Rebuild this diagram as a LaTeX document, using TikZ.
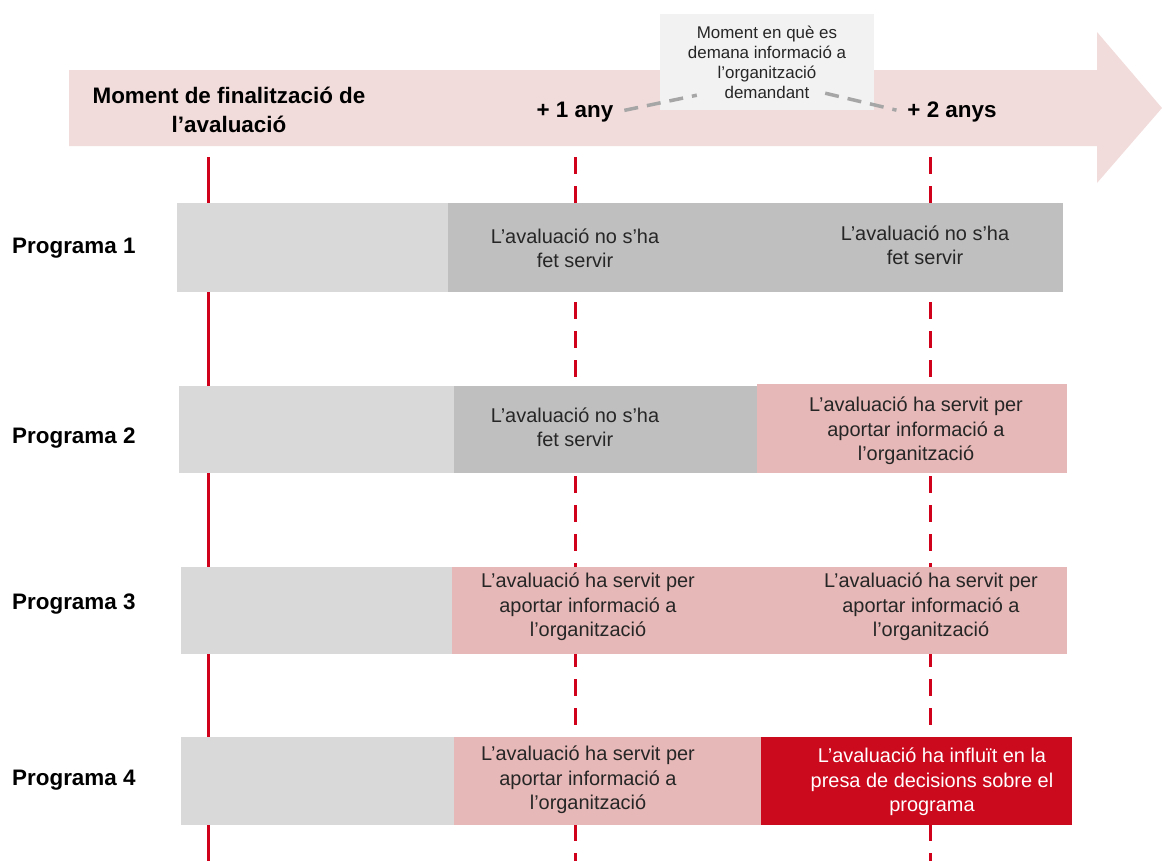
\documentclass[tikz,border=0pt]{standalone}
\usepackage{fontspec}
\setmainfont{Liberation Sans}
\usepackage{tikz}
\usetikzlibrary{calc,shapes,arrows,positioning}
\definecolor{arrowpink}{HTML}{F2DCDB}
\definecolor{greyL}{HTML}{D9D9D9}
\definecolor{greyD}{HTML}{BFBFBF}
\definecolor{pinkL}{HTML}{E6B8B7}
\definecolor{redF}{HTML}{CC0A1E}
\definecolor{redline}{HTML}{D0021B}
\definecolor{callbg}{HTML}{F2F2F2}
\definecolor{dashgrey}{HTML}{A6A6A6}
\definecolor{txtgrey}{HTML}{262626}
\tikzset{
  cell/.style={anchor=north west, inner sep=0pt, minimum height=88bp},
  celltxt/.style={align=center, text=txtgrey, font=\fontsize{20}{24.5}\selectfont},
  boldlbl/.style={align=center, text=black, font=\bfseries\fontsize{22.5}{29}\selectfont},
  redv/.style={draw=redline, line width=3bp},
  vdash/.style={dash pattern=on 17bp off 12bp},
  calldash/.style={draw=dashgrey, line width=3.5bp, dash pattern=on 14bp off 9bp}
}

\begin{document}
\begin{tikzpicture}[x=1bp,y=-1bp]
    \useasboundingbox (0,0) rectangle (1162,861);
    \fill[arrowpink] (69,70) -- (1097,70) -- (1097,32) -- (1162,108) -- (1097,183) -- (1097,146) -- (69,146) -- cycle;
    \foreach \x/\s in {208/solid, 575/vdash, 930/vdash}
        \draw[redv,\s] (\x,157) -- (\x,861);

    \node[boldlbl] (fin) at (229,110) {Moment de finalització de\\l’avaluació};
    \node[boldlbl, inner sep=3bp] (any1) at (575,112) {+ 1 any};
    \node[boldlbl, inner sep=3bp] (any2) at (952,112) {+ 2 anys};
    \node[fill=callbg, minimum width=214bp, minimum height=96bp, align=center, text=txtgrey,
          font=\fontsize{17}{20}\selectfont] (callout) at (767,62)
          {Moment en què es\\demana informació a\\l’organització\\demandant};
    \draw[calldash, shorten <=8bp] (any1.east) -- ($(callout.south west)+(37,-15)$);
    \draw[calldash, shorten >=8bp] ($(callout.south east)+(-49,-17)$) -- (any2.west);

    \node[cell, fill=greyL, minimum width=271bp, minimum height=89bp] (c1a) at (177,203) {};
    \node[cell, fill=greyD, minimum width=615bp, minimum height=89bp] (c1b) at (448,203) {};
    \node[cell, fill=greyL, minimum width=275bp, minimum height=87bp] (c2a) at (179,386) {};
    \node[cell, fill=greyD, minimum width=303bp, minimum height=87bp] (c2b) at (454,386) {};
    \node[cell, fill=pinkL, minimum width=310bp, minimum height=89bp] (c2c) at (757,384) {};
    \node[cell, fill=greyL, minimum width=271bp, minimum height=87bp] (c3a) at (181,567) {};
    \node[cell, fill=pinkL, minimum width=615bp, minimum height=87bp] (c3b) at (452,567) {};
    \node[cell, fill=greyL, minimum width=273bp] (c4a) at (181,737) {};
    \node[cell, fill=pinkL, minimum width=307bp] (c4b) at (454,737) {};
    \node[cell, fill=redF, minimum width=311bp] (c4c) at (761,737) {};

    \node[celltxt] (t1b) at (575,248) {L’avaluació no s’ha\\fet servir};
    \node[celltxt] (t1c) at (925,245) {L’avaluació no s’ha\\fet servir};
    \node[celltxt] (t2b) at (575,427) {L’avaluació no s’ha\\fet servir};
    \node[celltxt] (t2c) at (916,431) {L’avaluació ha servit per\\aportar informació a\\l’organització};
    \node[celltxt] (t3b) at (588,607) {L’avaluació ha servit per\\aportar informació a\\l’organització};
    \node[celltxt] (t3c) at (931,607) {L’avaluació ha servit per\\aportar informació a\\l’organització};
    \node[celltxt] (t4b) at (588,780) {L’avaluació ha servit per\\aportar informació a\\l’organització};
    \node[celltxt, text=white] (t4c) at (932,782) {L’avaluació ha influït en la\\presa de decisions sobre el\\programa};

    \foreach \i/\y in {1/248, 2/438, 3/604, 4/780}
        \node[boldlbl, anchor=west, inner sep=0pt] (prog\i) at (12,\y) {Programa \i};
\end{tikzpicture}
\end{document}
